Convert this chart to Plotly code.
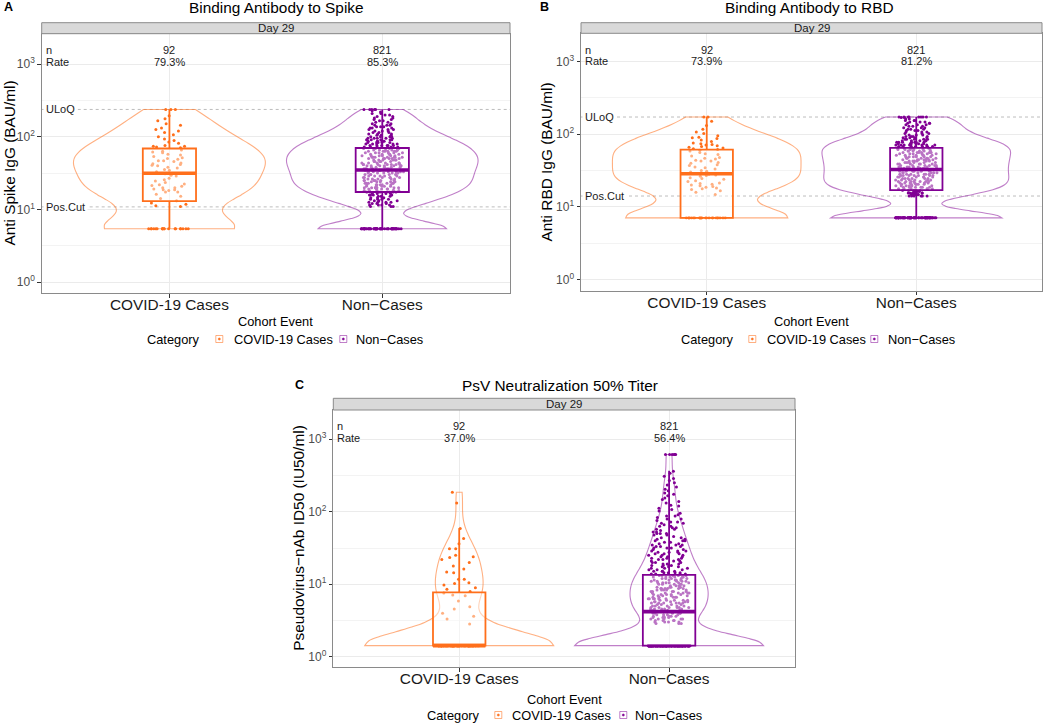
import numpy as np
import plotly.graph_objects as go

FONT = "Liberation Sans, Arial, Helvetica, sans-serif"
W, H = 1050, 723

CATS = ["COVID-19 Cases", "Non\u2212Cases"]
N_LABEL = ["92", "821"]
N_TOTAL = [92, 821]

# ---------------- Panel A: Binding Antibody to Spike (values in log10 BAU/ml) ----------------
spike_floor = 0.734        # LLOQ/2 = 5.42
spike_uloq = 2.377         # 238.1
spike_poscut = 1.035       # 10.84
spike_rate = ["79.3%", "85.3%"]
spike_cases_log10 = [
    2.377, 2.377, 2.377, 2.29, 2.25, 2.22, 2.18, 2.16, 2.12, 2.10, 2.08, 2.06, 2.03, 2.00,
    1.97, 1.95, 1.93, 1.91, 1.88, 1.87, 1.87, 1.86, 1.85,
    1.82, 1.80, 1.79, 1.78, 1.76, 1.75, 1.73, 1.71, 1.70, 1.69, 1.67, 1.67, 1.66, 1.64,
    1.63, 1.62, 1.61, 1.60, 1.58, 1.57, 1.55, 1.54, 1.52,
    1.49, 1.47, 1.46, 1.43, 1.41, 1.39, 1.37, 1.35, 1.34, 1.33, 1.32, 1.30, 1.30, 1.28,
    1.27, 1.27, 1.26, 1.24, 1.24, 1.21, 1.18, 1.15, 1.12,
    1.09, 1.07, 1.05, 1.04]
spike_cases_floor_n = 19
spike_non_log10 = [
    1.04, 1.06, 1.08, 1.10, 1.12, 1.14, 1.16, 1.18, 1.20, 1.22,
    1.24, 1.26, 1.28, 1.30, 1.32, 1.34, 1.36, 1.38, 1.40, 1.42, 1.44, 1.46, 1.48, 1.50, 1.52, 1.54,
    1.56, 1.58, 1.60, 1.62, 1.64, 1.66, 1.68, 1.70, 1.72, 1.74, 1.76, 1.78, 1.80, 1.82, 1.84,
    1.86, 1.88, 1.90, 1.92, 1.94, 1.96, 1.98,
    2.00, 2.02, 2.04, 2.06, 2.08, 2.10, 2.12, 2.14, 2.16, 2.18,
    2.20, 2.22, 2.24, 2.26, 2.28, 2.30, 2.32, 2.34, 2.36, 2.377]
spike_non_count = [
    3, 4, 3, 4, 3, 4, 4, 3, 4, 4,
    5, 6, 5, 6, 5, 6, 6, 5, 6, 5, 6, 5, 6, 5, 6, 5,
    6, 5, 6, 7, 6, 5, 6, 6, 7, 6, 5, 6, 6, 6, 5,
    5, 6, 5, 5, 5, 5, 5,
    4, 3, 3, 3, 3, 3, 3, 3, 3, 2,
    2, 2, 2, 2, 2, 2, 2, 1, 1, 6]
spike_non_floor_n = 52
spike_lo = [0.734, 0.734]
spike_q1 = [1.113, 1.240]
spike_med = [1.499, 1.543]
spike_q3 = [1.839, 1.846]
spike_hi = [2.377, 2.377]

# ---------------- Panel B: Binding Antibody to RBD (log10 BAU/ml) ----------------
rbd_floor = 0.848          # 7.04
rbd_uloq = 2.237           # 172.5
rbd_poscut = 1.149         # 14.08
rbd_rate = ["73.9%", "81.2%"]
rbd_cases_log10 = [
    2.237, 2.237, 2.18, 2.12, 2.07, 2.03, 2.01, 1.98, 1.96, 1.95, 1.94, 1.92, 1.90, 1.88,
    1.87, 1.86, 1.85, 1.84, 1.83, 1.82, 1.81, 1.80, 1.79,
    1.78, 1.77, 1.75, 1.73, 1.72, 1.70, 1.68, 1.67, 1.66, 1.64, 1.63, 1.63, 1.61, 1.60,
    1.58, 1.57, 1.55, 1.54, 1.52, 1.50, 1.49, 1.48, 1.46,
    1.45, 1.44, 1.43, 1.42, 1.40, 1.39, 1.38, 1.36, 1.35, 1.33, 1.32, 1.31, 1.30, 1.29,
    1.28, 1.27, 1.26, 1.25, 1.24, 1.22, 1.20, 1.17]
rbd_cases_floor_n = 24
rbd_non_log10 = [
    1.15, 1.17, 1.19, 1.21,
    1.23, 1.25, 1.27, 1.29, 1.31, 1.33, 1.35, 1.37, 1.39, 1.41, 1.43, 1.45, 1.47, 1.49, 1.51,
    1.53, 1.55, 1.57, 1.59, 1.61, 1.63, 1.65, 1.67, 1.69, 1.71, 1.73, 1.75, 1.77, 1.79, 1.81,
    1.83, 1.85, 1.87, 1.89, 1.91, 1.93, 1.95, 1.97, 1.99,
    2.01, 2.03, 2.05, 2.07, 2.09, 2.11, 2.13, 2.15, 2.17, 2.19, 2.21,
    2.23, 2.237]
rbd_non_count = [
    6, 6, 6, 5,
    6, 6, 7, 6, 6, 6, 7, 6, 6, 6, 7, 6, 6, 6, 5,
    6, 7, 6, 6, 6, 6, 7, 6, 6, 6, 6, 7, 6, 6, 5,
    8, 8, 7, 7, 5, 5, 4, 4, 3,
    3, 3, 3, 3, 3, 3, 3, 3, 3, 3, 2,
    2, 8]
rbd_non_floor_n = 69
rbd_lo = [0.848, 0.848]
rbd_q1 = [0.848, 1.230]
rbd_med = [1.455, 1.514]
rbd_q3 = [1.789, 1.812]
rbd_hi = [2.237, 2.237]

# ---------------- Panel C: PsV Neutralization 50% Titer (log10 IU50/ml) ----------------
psv_floor = 0.153
psv_rate = ["37.0%", "56.4%"]
psv_cases_log10 = [
    2.27, 2.12, 1.77, 1.63, 1.56, 1.49, 1.49, 1.40, 1.38, 1.37, 1.34, 1.30, 1.25, 1.21,
    1.17, 1.16, 1.07, 1.07, 1.02, 1.01, 0.99, 0.95, 0.93, 0.90, 0.88, 0.85, 0.84, 0.77,
    0.69, 0.66, 0.60, 0.56, 0.52, 0.45]
psv_cases_floor_n = 58
psv_non_log10 = [
    0.46, 0.48, 0.50, 0.52, 0.54, 0.56, 0.58, 0.60,
    0.62, 0.64, 0.66, 0.68, 0.70, 0.72, 0.74, 0.76, 0.78, 0.80, 0.82, 0.84, 0.86, 0.88,
    0.90, 0.92, 0.94, 0.96, 0.98, 1.00, 1.02, 1.04, 1.06, 1.08, 1.10, 1.12,
    1.14, 1.16, 1.18, 1.20, 1.22, 1.24, 1.26, 1.28, 1.30, 1.32, 1.34, 1.36, 1.38, 1.40,
    1.42, 1.44, 1.46, 1.48, 1.50, 1.52, 1.54, 1.56, 1.58,
    1.60, 1.62, 1.64, 1.66, 1.68, 1.70, 1.72, 1.74, 1.76, 1.78, 1.80, 1.82, 1.84, 1.86,
    1.88, 1.90, 1.92, 1.94, 1.96, 1.98,
    2.01, 2.03, 2.05, 2.08, 2.09, 2.12, 2.14, 2.17, 2.19, 2.22, 2.24, 2.26, 2.29, 2.31,
    2.34, 2.37, 2.40, 2.43, 2.46, 2.49, 2.53, 2.56,
    2.79]
psv_non_count = [
    3, 4, 4, 5, 4, 5, 4, 5,
    4, 5, 5, 6, 5, 4, 6, 5, 5, 6, 5, 4, 5, 6,
    5, 5, 6, 5, 4, 5, 6, 5, 5, 5, 6, 5,
    4, 4, 4, 3, 3, 3, 4, 3, 3, 3, 3, 3, 3, 3,
    3, 3, 3, 2, 3, 3, 3, 2, 2,
    3, 2, 2, 1, 2, 3, 2, 1, 2, 2, 2, 1, 2, 2,
    1, 2, 1, 2, 1, 1,
    1, 1, 1, 1, 1, 1, 1, 1, 1, 1, 1, 1, 1, 1,
    1, 1, 1, 1, 1, 1, 1, 1,
    6]
psv_non_floor_n = 232
psv_lo = [0.153, 0.153]
psv_q1 = [0.153, 0.153]
psv_med = [0.153, 0.622]
psv_q3 = [0.889, 1.128]
psv_hi = [1.772, 2.567]

Y_TICKS = [0, 1, 2, 3]
Y_TICKTEXT = ["10<sup>0</sup>", "10<sup>1</sup>", "10<sup>2</sup>", "10<sup>3</sup>"]

# ---------------- styling ----------------
DARK = ["#FF6F1B", "#810094"]
VLINE = ["rgba(255,111,27,0.55)", "rgba(129,0,148,0.50)"]
BORDER = "#8A8A8A"
GRID = "#EBEBEB"

panels = [
    dict(letter="A", title="Binding Antibody to Spike", ytitle="Anti Spike IgG (BAU/ml)",
         px=(41.7, 510.0), py=(33.7, 293.3), strip=22.7, yr=[-0.155, 3.42],
         floor=spike_floor, lines=[("ULoQ", spike_uloq), ("Pos.Cut", spike_poscut)],
         rate=spike_rate,
         groups=[(spike_cases_log10, None, spike_cases_floor_n),
                 (spike_non_log10, spike_non_count, spike_non_floor_n)],
         box=(spike_lo, spike_q1, spike_med, spike_q3, spike_hi),
         letter_xy=(2, 7.5), title_x=276.7, title_y=7.5, ytitle_x=9,
         cohort_y=321.7, legend_y=339,
         legend_x=(173.5, 219.3, 231.7, 343.3, 354.0)),
    dict(letter="B", title="Binding Antibody to RBD", ytitle="Anti RBD IgG (BAU/ml)",
         px=(581.0, 1042.0), py=(33.3, 290.7), strip=22.7, yr=[-0.155, 3.39],
         floor=rbd_floor, lines=[("ULoQ", rbd_uloq), ("Pos.Cut", rbd_poscut)],
         rate=rbd_rate,
         groups=[(rbd_cases_log10, None, rbd_cases_floor_n),
                 (rbd_non_log10, rbd_non_count, rbd_non_floor_n)],
         box=(rbd_lo, rbd_q1, rbd_med, rbd_q3, rbd_hi),
         letter_xy=(538, 7.5), title_x=809.7, title_y=7.5, ytitle_x=545.5,
         cohort_y=321.7, legend_y=339,
         legend_x=(707.8, 752.3, 765.0, 874.3, 885.7)),
    dict(letter="C", title="PsV Neutralization 50% Titer", ytitle="Pseudovirus\u2212nAb ID50 (IU50/ml)",
         px=(333.3, 795.0), py=(410.0, 667.3), strip=398.3, yr=[-0.146, 3.404],
         floor=psv_floor, lines=[],
         rate=psv_rate,
         groups=[(psv_cases_log10, None, psv_cases_floor_n),
                 (psv_non_log10, psv_non_count, psv_non_floor_n)],
         box=(psv_lo, psv_q1, psv_med, psv_q3, psv_hi),
         letter_xy=(293, 385), title_x=560, title_y=385, ytitle_x=299,
         cohort_y=699, legend_y=715,
         legend_x=(453.0, 498.3, 510.0, 623.3, 632.7)),
]


def fx(px):
    return px / W


def fy(py):
    return 1 - py / H


def nrd0(v, n):
    sd = np.std(v, ddof=1)
    q25, q75 = np.percentile(v, [25, 75])
    lo = min(sd, (q75 - q25) / 1.34) if q75 > q25 else sd
    return 0.9 * lo * n ** -0.2


fig = go.Figure()
annotations = []
shapes = []
layout_axes = {}

for pi, p in enumerate(panels):
    s = "" if pi == 0 else str(pi + 1)
    xa, ya = "x" + s, "y" + s
    lo_, q1_, med_, q3_, hi_ = p["box"]

    samples = []
    for gi, (vals, counts, nfloor) in enumerate(p["groups"]):
        if counts is None:
            body = np.array(vals, dtype=float)
        else:
            body = np.repeat(np.array(vals, dtype=float), counts)
        floor = np.repeat(p["floor"], nfloor)
        samples.append((floor, body))

    # violins
    for gi, (floor, body) in enumerate(samples):
        allv = np.concatenate([floor, body])
        fig.add_trace(go.Violin(
            x=[CATS[gi]] * len(allv), y=allv, xaxis=xa, yaxis=ya,
            width=0.9, scalemode="width", spanmode="hard",
            bandwidth=nrd0(allv, N_TOTAL[gi]),
            points=False, box_visible=False, meanline_visible=False,
            line=dict(color=VLINE[gi], width=1.1), fillcolor="rgba(0,0,0,0)",
            showlegend=False, hoverinfo="skip"))

    # jittered points (split in value bands so jitter is even)
    for gi, (floor, body) in enumerate(samples):
        edges = [q1_[gi], q3_[gi]]
        bands = [floor,
                 body[body <= edges[0]],
                 body[(body > edges[0]) & (body <= edges[1])],
                 body[body > edges[1]]]
        for band in bands:
            if len(band) == 0:
                continue
            fig.add_trace(go.Box(
                x=[CATS[gi]] * len(band), y=band, xaxis=xa, yaxis=ya,
                boxpoints="all", jitter=0.8, pointpos=0, width=0.25,
                line=dict(width=0, color="rgba(0,0,0,0)"), fillcolor="rgba(0,0,0,0)",
                whiskerwidth=0,
                marker=dict(size=3, color=DARK[gi], line=dict(width=0)),
                showlegend=False, hoverinfo="skip"))

    # summary boxes
    for gi in range(2):
        fig.add_trace(go.Box(
            x=[CATS[gi]], q1=[q1_[gi]], median=[med_[gi]], q3=[q3_[gi]],
            lowerfence=[lo_[gi]], upperfence=[hi_[gi]], xaxis=xa, yaxis=ya,
            boxpoints=False, width=0.25, whiskerwidth=0,
            line=dict(width=1.8, color=DARK[gi]), fillcolor="rgba(255,255,255,0.45)",
            showlegend=False, hoverinfo="skip"))
        fig.add_trace(go.Box(
            x=[CATS[gi]], q1=[med_[gi]], median=[med_[gi]], q3=[med_[gi]],
            lowerfence=[med_[gi]], upperfence=[med_[gi]], xaxis=xa, yaxis=ya,
            boxpoints=False, width=0.25, whiskerwidth=0,
            line=dict(width=3.6, color=DARK[gi]), fillcolor="rgba(0,0,0,0)",
            showlegend=False, hoverinfo="skip"))

    x0, x1 = p["px"]
    y0, y1 = p["py"]
    layout_axes["xaxis" + s] = dict(
        domain=[fx(x0), fx(x1)], anchor=ya, type="category",
        categoryorder="array", categoryarray=CATS, range=[-0.6, 1.6],
        showgrid=True, gridcolor=GRID, gridwidth=1, zeroline=False,
        showline=True, mirror=True, linecolor=BORDER, linewidth=1,
        ticks="outside", ticklen=3.5, tickcolor="#333333", ticklabelstandoff=-6,
        tickfont=dict(family=FONT, size=15.4, color="#1A1A1A"))
    layout_axes["yaxis" + s] = dict(
        domain=[fy(y1), fy(y0)], anchor=xa, range=p["yr"],
        tickmode="array", tickvals=Y_TICKS, ticktext=Y_TICKTEXT,
        showgrid=True, gridcolor=GRID, gridwidth=1, zeroline=False,
        minor=dict(tickmode="array", tickvals=[0.5, 1.5, 2.5], showgrid=True,
                   gridcolor="#F3F3F3", gridwidth=0.6, ticks=""),
        showline=True, mirror=True, linecolor=BORDER, linewidth=1,
        ticks="outside", ticklen=3.5, tickcolor="#333333",
        tickfont=dict(family=FONT, size=12, color="#4D4D4D"))

    # reference lines + labels
    for lab, val in p["lines"]:
        shapes.append(dict(type="line", xref=xa + " domain", yref=ya, x0=0, x1=1,
                           y0=val, y1=val, layer="below",
                           line=dict(color="#BDBDBD", width=1, dash="dot")))
        annotations.append(dict(xref=xa + " domain", yref=ya, x=0, y=val, xshift=1,
                                xanchor="left", yanchor="middle", text=lab, showarrow=False,
                                bgcolor="white", borderpad=2,
                                font=dict(family=FONT, size=11, color="#1A1A1A")))

    # n / Rate
    for txt, yy in [("n", 0.937), ("Rate", 0.891)]:
        annotations.append(dict(xref=xa + " domain", yref=ya + " domain", x=0, y=yy,
                                xshift=2, xanchor="left", yanchor="middle", text=txt,
                                showarrow=False, font=dict(family=FONT, size=11, color="#1A1A1A")))
    for gi in range(2):
        annotations.append(dict(xref=xa, yref=ya + " domain", x=gi, y=0.937,
                                xanchor="center", yanchor="middle", text=N_LABEL[gi],
                                showarrow=False, font=dict(family=FONT, size=11, color="#1A1A1A")))
        annotations.append(dict(xref=xa, yref=ya + " domain", x=gi, y=0.891,
                                xanchor="center", yanchor="middle", text=p["rate"][gi],
                                showarrow=False, font=dict(family=FONT, size=11, color="#1A1A1A")))

    # strip
    shapes.append(dict(type="rect", xref="paper", yref="paper", x0=fx(x0), x1=fx(x1),
                       y0=fy(y0), y1=fy(p["strip"]), fillcolor="#D9D9D9",
                       line=dict(color=BORDER, width=1), layer="above"))
    annotations.append(dict(xref="paper", yref="paper", x=fx((x0 + x1) / 2),
                            y=fy((y0 + p["strip"]) / 2), text="Day 29", showarrow=False,
                            xanchor="center", yanchor="middle",
                            font=dict(family=FONT, size=11.5, color="#1A1A1A")))

    # titles
    annotations.append(dict(xref="paper", yref="paper", x=fx(p["title_x"]), y=fy(p["title_y"]),
                            text=p["title"], showarrow=False, xanchor="center", yanchor="middle",
                            font=dict(family=FONT, size=15.4, color="#000000")))
    annotations.append(dict(xref="paper", yref="paper", x=fx(p["letter_xy"][0]),
                            y=fy(p["letter_xy"][1]), text="<b>" + p["letter"] + "</b>",
                            showarrow=False, xanchor="left", yanchor="middle",
                            font=dict(family=FONT, size=12.5, color="#000000")))
    annotations.append(dict(xref="paper", yref="paper", x=fx(p["ytitle_x"]),
                            y=fy((y0 + y1) / 2), text=p["ytitle"], textangle=-90,
                            showarrow=False, xanchor="center", yanchor="middle",
                            font=dict(family=FONT, size=15.4, color="#000000")))
    annotations.append(dict(xref="paper", yref="paper", x=fx((x0 + x1) / 2),
                            y=fy(p["cohort_y"]), text="Cohort Event", showarrow=False,
                            xanchor="center", yanchor="middle",
                            font=dict(family=FONT, size=12.8, color="#000000")))

    # legend (drawn by hand)
    lx = p["legend_x"]
    ly = p["legend_y"]
    annotations.append(dict(xref="paper", yref="paper", x=fx(lx[0]), y=fy(ly),
                            text="Category", showarrow=False, xanchor="center", yanchor="middle",
                            font=dict(family=FONT, size=12.8, color="#000000")))
    for gi, (icx, txx) in enumerate([(lx[1], lx[2]), (lx[3], lx[4])]):
        shapes.append(dict(type="rect", xref="paper", yref="paper",
                           x0=fx(icx - 3.5), x1=fx(icx + 3.5), y0=fy(ly + 3.5), y1=fy(ly - 3.5),
                           line=dict(color=VLINE[gi], width=1), fillcolor="white"))
        shapes.append(dict(type="circle", xref="paper", yref="paper",
                           x0=fx(icx - 1.1), x1=fx(icx + 1.1), y0=fy(ly + 1.1), y1=fy(ly - 1.1),
                           line=dict(color=DARK[gi], width=0.5), fillcolor=DARK[gi]))
        annotations.append(dict(xref="paper", yref="paper", x=fx(txx), y=fy(ly),
                                text=CATS[gi], showarrow=False, xanchor="left", yanchor="middle",
                                font=dict(family=FONT, size=12.8, color="#000000")))

fig.update_layout(
    width=W, height=H, autosize=False,
    margin=dict(l=0, r=0, t=0, b=0),
    paper_bgcolor="white", plot_bgcolor="white",
    boxmode="overlay", violinmode="overlay",
    showlegend=False, font=dict(family=FONT),
    annotations=annotations, shapes=shapes,
    **layout_axes)

fig.write_html("out.html", config={"displayModeBar": False},
               post_script="document.body.style.margin='0';document.body.style.overflow='hidden';")
